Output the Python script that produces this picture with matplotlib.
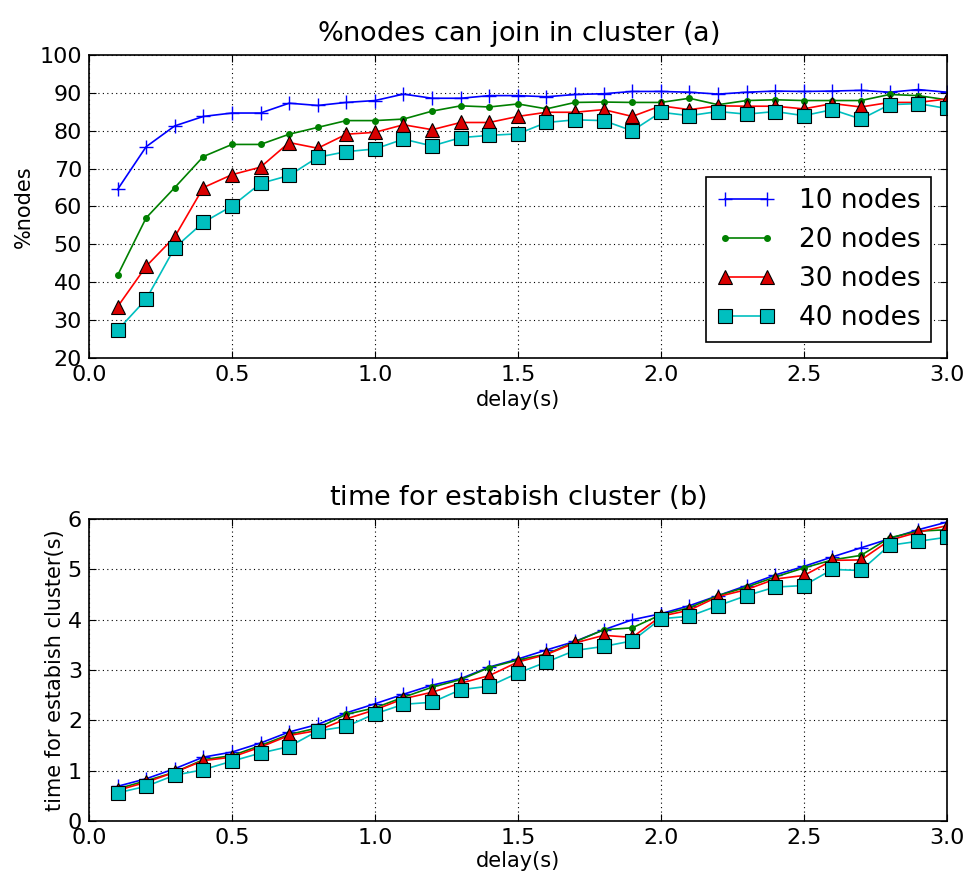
import matplotlib
matplotlib.use("Agg")
import matplotlib.pyplot as plt

delay = [0.1, 0.2, 0.3, 0.4, 0.5, 0.6, 0.7, 0.8, 0.9, 1.0,
         1.1, 1.2, 1.3, 1.4, 1.5, 1.6, 1.7, 1.8, 1.9, 2.0,
         2.1, 2.2, 2.3, 2.4, 2.5, 2.6, 2.7, 2.8, 2.9, 3.0]

labels = ["10 nodes", "20 nodes", "30 nodes", "40 nodes"]

# (a) % nodes that can join in cluster
join_10 = [64.5, 75.8, 81.3, 83.8, 84.7, 84.7, 87.3, 86.7, 87.5, 88.0,
           89.7, 88.6, 88.6, 89.3, 89.3, 89.0, 89.6, 89.8, 90.4, 90.4,
           90.2, 89.7, 90.2, 90.5, 90.4, 90.5, 90.7, 90.2, 90.9, 90.2]
join_20 = [41.8, 57.0, 65.0, 73.2, 76.4, 76.4, 79.1, 80.9, 82.7, 82.7,
           83.1, 85.2, 86.6, 86.3, 87.1, 85.8, 87.5, 87.6, 87.5, 87.5,
           88.6, 86.9, 88.0, 88.2, 88.0, 88.0, 88.0, 89.6, 89.3, 88.2]
join_30 = [33.5, 44.2, 52.0, 65.0, 68.4, 70.4, 76.9, 75.4, 79.1, 79.6,
           81.6, 80.3, 82.2, 82.2, 83.8, 84.9, 84.9, 85.6, 83.8, 86.6,
           85.6, 86.6, 86.5, 86.5, 85.8, 87.2, 86.3, 87.5, 87.5, 88.4]
join_40 = [27.3, 35.5, 49.1, 55.8, 60.1, 66.1, 68.2, 73.0, 74.5, 75.2,
           77.8, 76.0, 78.2, 78.8, 79.2, 82.2, 82.9, 82.7, 80.0, 84.9,
           84.0, 85.1, 84.4, 85.1, 84.0, 85.6, 83.1, 86.9, 87.2, 85.9]

# (b) time for establishing cluster (s)
time_10 = [0.69, 0.84, 1.04, 1.27, 1.37, 1.55, 1.77, 1.92, 2.15, 2.33,
           2.52, 2.70, 2.83, 3.06, 3.22, 3.40, 3.57, 3.80, 4.00, 4.12,
           4.28, 4.48, 4.68, 4.89, 5.06, 5.25, 5.43, 5.61, 5.79, 5.94]
time_20 = [0.64, 0.80, 0.97, 1.22, 1.30, 1.50, 1.72, 1.85, 2.12, 2.25,
           2.46, 2.66, 2.81, 3.05, 3.20, 3.32, 3.56, 3.80, 3.84, 4.10,
           4.24, 4.48, 4.65, 4.85, 5.03, 5.19, 5.28, 5.63, 5.76, 5.79]
time_30 = [0.61, 0.77, 0.97, 1.20, 1.27, 1.47, 1.70, 1.80, 2.03, 2.21,
           2.43, 2.56, 2.74, 2.89, 3.16, 3.31, 3.54, 3.69, 3.65, 4.07,
           4.19, 4.46, 4.60, 4.81, 4.88, 5.18, 5.19, 5.58, 5.74, 5.87]
time_40 = [0.56, 0.69, 0.91, 1.02, 1.19, 1.35, 1.48, 1.79, 1.88, 2.13,
           2.32, 2.36, 2.61, 2.68, 2.94, 3.16, 3.39, 3.47, 3.58, 4.02,
           4.07, 4.28, 4.48, 4.65, 4.68, 5.00, 4.98, 5.48, 5.56, 5.64]

styles = [
    dict(color=(0, 0, 1), marker="+", markersize=10, markeredgewidth=1.0),
    dict(color=(0, 0.5, 0), marker="o", markersize=4, markeredgecolor=(0, 0.5, 0)),
    dict(color=(1, 0, 0), marker="^", markersize=10, markerfacecolor=(0.85, 0, 0),
         markeredgecolor="black", markeredgewidth=0.8),
    dict(color=(0, 0.75, 0.75), marker="s", markersize=10,
         markeredgecolor="black", markeredgewidth=0.8),
]

fig = plt.figure(figsize=(9.66, 8.75), dpi=100)
ax1 = fig.add_axes([0.0921, 0.591, 0.888, 0.346])
ax2 = fig.add_axes([0.0921, 0.0617, 0.888, 0.345])


def style_axes(ax):
    ax.grid(True, color="black", linestyle=(0, (1, 3)), linewidth=0.8)
    ax.tick_params(direction="in", top=True, right=True, labelsize=16,
                   length=5, width=0.8, pad=5)
    for s in ax.spines.values():
        s.set_linewidth(1.2)


for vals, lab, st in zip([join_10, join_20, join_30, join_40], labels, styles):
    ax1.plot(delay, vals, label=lab, linewidth=1.2, **st)
ax1.set_xlim(0, 3.0)
ax1.set_ylim(20, 100)
ax1.set_xticks([0.0, 0.5, 1.0, 1.5, 2.0, 2.5, 3.0])
ax1.set_yticks(range(20, 101, 10))
style_axes(ax1)
ax1.set_title("%nodes can join in cluster $\\mathrm{(a)}$", fontsize=19.5, pad=10)
ax1.set_xlabel("delay(s)", fontsize=15, labelpad=4)
ax1.set_ylabel("%nodes", fontsize=15, labelpad=4)
leg = ax1.legend(loc="lower right", fontsize=19, numpoints=2, handlelength=2.2,
                 fancybox=False, edgecolor="black", framealpha=1,
                 labelspacing=0.5, borderaxespad=0.6, handletextpad=0.9)
leg.get_frame().set_linewidth(1.2)

for vals, lab, st in zip([time_10, time_20, time_30, time_40], labels, styles):
    ax2.plot(delay, vals, label=lab, linewidth=1.2, **st)
ax2.set_xlim(0, 3.0)
ax2.set_ylim(0, 6)
ax2.set_xticks([0.0, 0.5, 1.0, 1.5, 2.0, 2.5, 3.0])
ax2.set_yticks(range(0, 7))
style_axes(ax2)
ax2.set_title("time for estabish cluster $\\mathrm{(b)}$", fontsize=19.5, pad=10)
ax2.set_xlabel("delay(s)", fontsize=15, labelpad=2)
ax2.set_ylabel("time for estabish cluster(s)", fontsize=15, labelpad=2)

fig.savefig("out.png", dpi=100)
